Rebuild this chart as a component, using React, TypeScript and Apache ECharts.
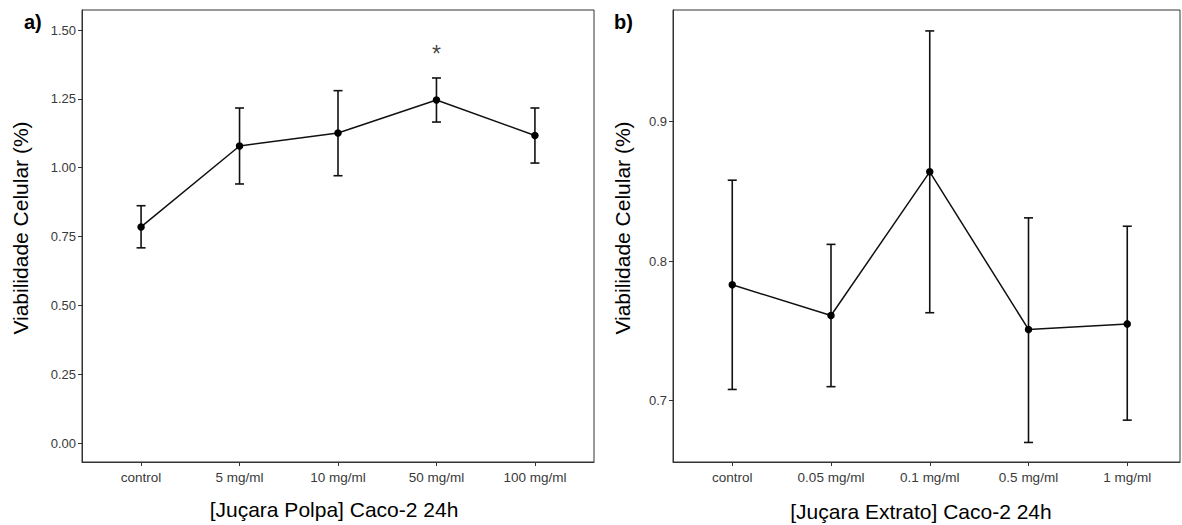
import React, { useEffect, useRef } from "react";
import * as echarts from "echarts";

const leftCategories = ["control", "5 mg/ml", "10 mg/ml", "50 mg/ml", "100 mg/ml"];
const leftMean = [0.785, 1.079, 1.126, 1.246, 1.117];
const leftUpper = [0.862, 1.217, 1.28, 1.326, 1.217];
const leftLower = [0.709, 0.941, 0.971, 1.166, 1.017];
const leftYTicks = [0, 0.25, 0.5, 0.75, 1.0, 1.25, 1.5];
const leftStars = [{ cat: 4, y: 1.413, text: "*" }];

const rightCategories = ["control", "0.05 mg/ml", "0.1 mg/ml", "0.5 mg/ml", "1 mg/ml"];
const rightMean = [0.783, 0.761, 0.864, 0.751, 0.755];
const rightUpper = [0.858, 0.812, 0.965, 0.831, 0.825];
const rightLower = [0.708, 0.71, 0.763, 0.67, 0.686];
const rightYTicks = [0.7, 0.8, 0.9];

const yTitle = "Viabilidade Celular (%)";
const leftXTitle = "[Juçara Polpa] Caco-2 24h";
const rightXTitle = "[Juçara Extrato] Caco-2 24h";

const FONT = "'Liberation Sans', Arial, sans-serif";
const FRAME = "#333333";
const LABEL = "#3a3a3a";

function errorBarRender(params: any, api: any) {
  const x = api.value(0);
  const lo = api.coord([x, api.value(1)]);
  const hi = api.coord([x, api.value(2)]);
  const half = 4.5;
  const style = { stroke: "#111", lineWidth: 1.6 };
  return {
    type: "group",
    children: [
      { type: "line", shape: { x1: lo[0], y1: lo[1], x2: hi[0], y2: hi[1] }, style },
      { type: "line", shape: { x1: hi[0] - half, y1: hi[1], x2: hi[0] + half, y2: hi[1] }, style },
      { type: "line", shape: { x1: lo[0] - half, y1: lo[1], x2: lo[0] + half, y2: lo[1] }, style },
    ],
  };
}

function makeX(gridIndex: number, cats: string[], max: number) {
  return {
    type: "value",
    gridIndex,
    min: 0.4,
    max,
    axisLine: { show: true, onZero: false, lineStyle: { color: FRAME, width: 1 } },
    axisTick: {
      show: true,
      length: 4,
      lineStyle: { color: FRAME },
      customValues: cats.map((_, i) => i + 1),
    },
    axisLabel: {
      color: LABEL,
      fontSize: 13.5,
      fontFamily: FONT,
      margin: 8,
      customValues: cats.map((_, i) => i + 1),
      formatter: (v: number) => cats[Math.round(v) - 1] ?? "",
    },
    splitLine: { show: false },
  };
}

function makeY(gridIndex: number, ticks: number[], min: number, max: number, digits: number) {
  return {
    type: "value",
    gridIndex,
    min,
    max,
    axisLine: { show: true, onZero: false, lineStyle: { color: FRAME, width: 1 } },
    axisTick: { show: true, length: 4, lineStyle: { color: FRAME }, customValues: ticks },
    axisLabel: {
      color: LABEL,
      fontSize: 13,
      fontFamily: FONT,
      margin: 6,
      customValues: ticks,
      formatter: (v: number) => v.toFixed(digits),
    },
    splitLine: { show: false },
  };
}

export default function App() {
  const ref = useRef<HTMLDivElement>(null);

  useEffect(() => {
    if (!ref.current) return;
    const chart = echarts.init(ref.current, undefined, { renderer: "svg" });

    const leftGridW = 512;
    const rightGridW = 507;
    const rightMax = 0.4 + rightGridW / 98.75;

    const option: any = {
      animation: false,
      backgroundColor: "#ffffff",
      grid: [
        { left: 82, top: 10, width: leftGridW, height: 452, show: true, borderColor: FRAME, borderWidth: 1, backgroundColor: "transparent" },
        { left: 673, top: 10, width: rightGridW, height: 452, show: true, borderColor: FRAME, borderWidth: 1, backgroundColor: "transparent" },
      ],
      xAxis: [makeX(0, leftCategories, 5.6), makeX(1, rightCategories, rightMax)],
      yAxis: [
        makeY(0, leftYTicks, -0.069, 1.573, 2),
        makeY(1, rightYTicks, 0.656, 0.98, 1),
      ],
      series: [
        {
          type: "custom",
          xAxisIndex: 0,
          yAxisIndex: 0,
          renderItem: errorBarRender,
          encode: { x: 0, y: [1, 2] },
          data: leftCategories.map((_, i) => [i + 1, leftLower[i], leftUpper[i]]),
          z: 2,
        },
        {
          type: "line",
          xAxisIndex: 0,
          yAxisIndex: 0,
          data: leftCategories.map((_, i) => [i + 1, leftMean[i]]),
          symbol: "circle",
          symbolSize: 7.5,
          itemStyle: { color: "#000" },
          lineStyle: { color: "#111", width: 1.5 },
          z: 3,
        },
        {
          type: "scatter",
          xAxisIndex: 0,
          yAxisIndex: 0,
          symbolSize: 0,
          data: leftStars.map((s) => ({ value: [s.cat, s.y], name: s.text })),
          label: {
            show: true,
            position: "inside",
            formatter: (p: any) => p.name,
            color: "#111",
            fontSize: 23,
            fontFamily: FONT,
          },
        },
        {
          type: "custom",
          xAxisIndex: 1,
          yAxisIndex: 1,
          renderItem: errorBarRender,
          encode: { x: 0, y: [1, 2] },
          data: rightCategories.map((_, i) => [i + 1, rightLower[i], rightUpper[i]]),
          z: 2,
        },
        {
          type: "line",
          xAxisIndex: 1,
          yAxisIndex: 1,
          data: rightCategories.map((_, i) => [i + 1, rightMean[i]]),
          symbol: "circle",
          symbolSize: 7.5,
          itemStyle: { color: "#000" },
          lineStyle: { color: "#111", width: 1.5 },
          z: 3,
        },
      ],
      graphic: [
        { type: "text", left: 24, top: 12, style: { text: "a)", fontSize: 20, fontWeight: "bold", fontFamily: FONT, fill: "#000" } },
        { type: "text", left: 614, top: 12, style: { text: "b)", fontSize: 20, fontWeight: "bold", fontFamily: FONT, fill: "#000" } },
        {
          type: "text", x: 20, y: 228, rotation: Math.PI / 2,
          style: { text: yTitle, fontSize: 21, fontFamily: FONT, fill: "#000", align: "center", verticalAlign: "middle" },
        },
        {
          type: "text", x: 622, y: 228, rotation: Math.PI / 2,
          style: { text: yTitle, fontSize: 21, fontFamily: FONT, fill: "#000", align: "center", verticalAlign: "middle" },
        },
        {
          type: "text", x: 334, y: 509,
          style: { text: leftXTitle, fontSize: 21, fontFamily: FONT, fill: "#000", align: "center", verticalAlign: "middle" },
        },
        {
          type: "text", x: 921, y: 511,
          style: { text: rightXTitle, fontSize: 21, fontFamily: FONT, fill: "#000", align: "center", verticalAlign: "middle" },
        },
      ],
    };

    chart.setOption(option);
    return () => chart.dispose();
  }, []);

  return (
    <div
      ref={ref}
      style={{ position: "fixed", left: 0, top: 0, width: 1182, height: 525, background: "#fff" }}
    />
  );
}
